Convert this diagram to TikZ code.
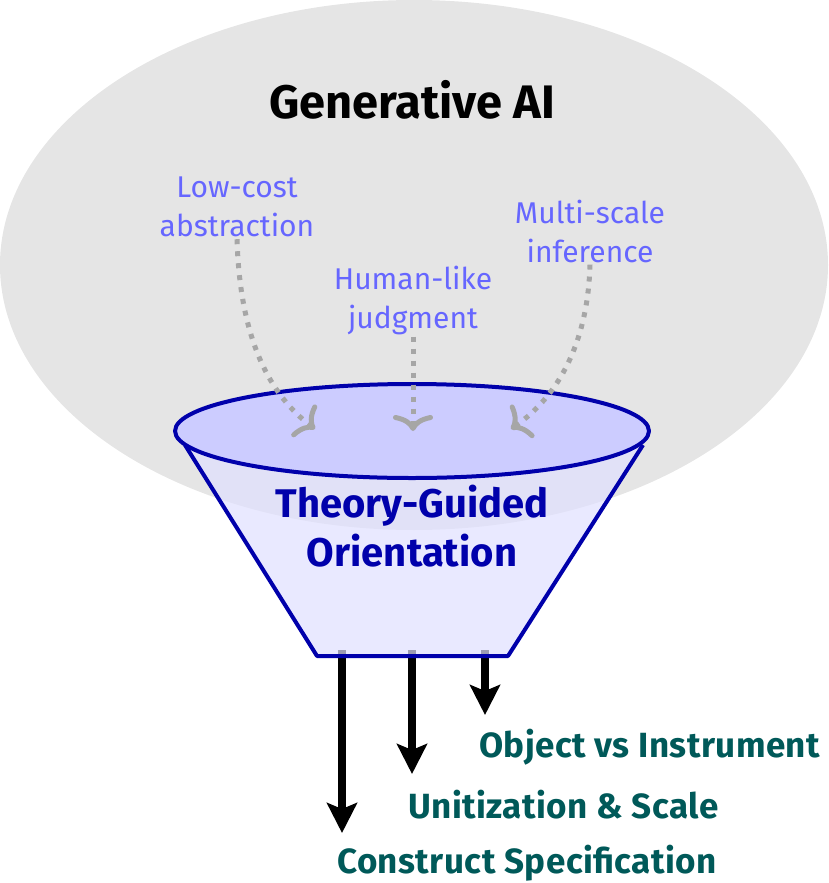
\documentclass[tikz,border=0pt]{standalone}
\usepackage{fontspec}
\setmainfont{Fira Sans}
\usetikzlibrary{arrows.meta,shapes.geometric}

\begin{document}
\begin{tikzpicture}[x=1pt,y=-1pt,
    hint/.style={text=blue!60, font=\fontsize{30}{39}\selectfont, align=center, inner sep=2pt},
    outcome/.style={text=teal!70!black, font=\bfseries\fontsize{35}{38}\selectfont\addfontfeatures{LetterSpace=1.3}, anchor=west, inner sep=0pt},
    funneledge/.style={draw=blue!67!black, line width=4pt, line join=round},
    feed/.style={draw=gray!70, line width=5pt, dash pattern=on 5pt off 7pt, -{To[length=16pt,width=40pt]}},
    outflow/.style={line width=7.5pt, -{Stealth[length=30pt,width=30pt,inset=6pt]}}]

    \useasboundingbox (0,0) rectangle (829,883);

    % cloud of generative AI
    \fill[black!10] (414,265) ellipse [x radius=414pt, y radius=265pt];
    \node (genai) at (412,100) {\bfseries\fontsize{47}{50}\selectfont Generative AI};

    \node[hint] (lowcost) at (237,207) {Low-cost\\abstraction};
    \node[hint] (humanlike) at (413,300) {Human-like\\judgment};
    \node[hint] (multiscale) at (590,231) {Multi-scale\\inference};

    % outputs
    \coordinate (outA) at (342,650);
    \coordinate (outB) at (412,650);
    \coordinate (outC) at (485,650);
    \coordinate (tipA) at (342,833);
    \coordinate (tipB) at (412,774);
    \coordinate (tipC) at (485,715);

    \draw[outflow] (outA) -- (tipA);
    \draw[outflow] (outB) -- (tipB);
    \draw[outflow] (outC) -- (tipC);

    \node[outcome] (objinst) at (479,747) {Object vs Instrument};
    \node[outcome] (unitscale) at (408,805) {Unitization \& Scale};
    \node[outcome] (construct) at (337,863) {Construct Specification};

    % funnel
    \fill[blue!12, fill opacity=0.7] (185,445) -- (317,656) -- (508,656) -- (643,445) -- cycle;
    \draw[funneledge] (185,445) -- (317,656) -- (508,656) -- (643,445);
    \node[ellipse, funneledge, fill=blue!20, minimum width=474pt, minimum height=94pt, inner sep=0pt] (rim) at (412,431) {};

    \node[text=blue!67!black, font=\bfseries\fontsize{40}{49}\selectfont, align=center] (theory) at (412,526) {Theory-Guided\\Orientation};

    % inputs into the funnel
    \coordinate (inA) at (315,429);
    \coordinate (inB) at (413,431);
    \coordinate (inC) at (511,429);

    \draw[feed] (lowcost.south) .. controls (240,340) and (270,395) .. (inA);
    \draw[feed] (humanlike.south) -- (inB);
    \draw[feed] (multiscale.south) .. controls (588,340) and (560,395) .. (inC);

\end{tikzpicture}
\end{document}
